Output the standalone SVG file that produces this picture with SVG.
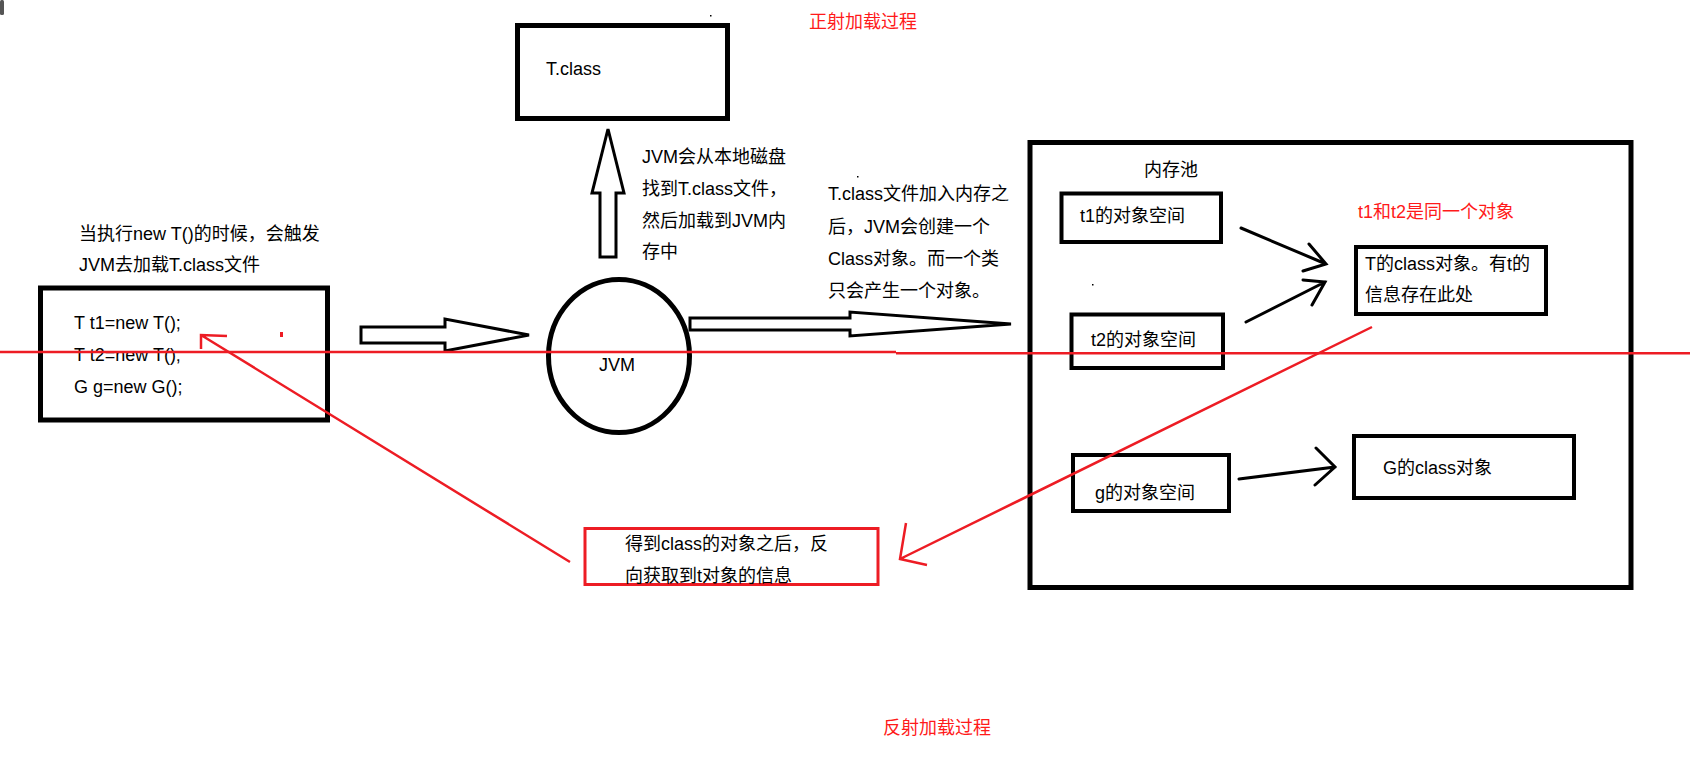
<svg xmlns="http://www.w3.org/2000/svg" width="1690" height="758" viewBox="0 0 1690 758">
<style>
  text { font-family: "Liberation Sans", "Noto Sans CJK SC", sans-serif; font-size: 18px; fill: #000; }
  .red { fill: #ff1a1a; }
  .box { fill: none; stroke: #000; }
  .blk { fill: #fff; stroke: #000; stroke-width: 3; stroke-linejoin: miter; }
  .ar { fill: none; stroke: #000; stroke-width: 3; stroke-linecap: round; }
  .rl { fill: none; stroke: #ED1C24; stroke-width: 2.5; }
</style>
<rect width="1690" height="758" fill="#fff"/>
<rect x="0" y="0" width="4" height="15" rx="1.5" fill="#555"/>

<g id="tclass">
  <rect class="box" x="517.5" y="25.5" width="210" height="93" stroke-width="5"/>
  <text x="546" y="75">T.class</text>
</g>

<g id="code">
  <text x="79" y="240">当执行new T()的时候，会触发</text>
  <text x="79" y="271">JVM去加载T.class文件</text>
  <rect class="box" x="40.5" y="288" width="287" height="132" stroke-width="5"/>
  <text x="74" y="329">T t1=new T();</text>
  <text x="74" y="361">T t2=new T();</text>
  <text x="74" y="393">G g=new G();</text>
</g>

<g id="jvm">
  <ellipse class="box" cx="619" cy="356" rx="70.5" ry="76.5" stroke-width="5"/>
  <text x="599" y="371">JVM</text>
</g>

<g id="pool">
  <rect class="box" x="1030" y="142.5" width="601" height="445" stroke-width="5"/>
  <text x="1144" y="176">内存池</text>
</g>

<g id="t1">
  <rect class="box" x="1061.5" y="193.5" width="159.5" height="48.5" stroke-width="4"/>
  <text x="1080" y="222">t1的对象空间</text>
</g>
<g id="t2">
  <rect class="box" x="1071.5" y="314.5" width="151.5" height="53.5" stroke-width="4"/>
  <text x="1091" y="346">t2的对象空间</text>
</g>
<g id="g">
  <rect class="box" x="1073" y="455" width="156" height="56" stroke-width="4"/>
  <text x="1095" y="499">g的对象空间</text>
</g>
<g id="tcls">
  <rect class="box" x="1356" y="247" width="190" height="67" stroke-width="4"/>
  <text x="1365" y="270">T的class对象。有t的</text>
  <text x="1365" y="301">信息存在此处</text>
</g>
<g id="gcls">
  <rect class="box" x="1354" y="436" width="220" height="62" stroke-width="4"/>
  <text x="1383" y="474">G的class对象</text>
</g>

<g id="result">
  <rect x="585" y="528.5" width="293" height="56" fill="none" stroke="#ED1C24" stroke-width="3"/>
  <text x="625" y="550">得到class的对象之后，反</text>
  <text x="625" y="582">向获取到t对象的信息</text>
</g>

<g id="labels">
  <text class="red" x="809" y="28">正射加载过程</text>
  <text class="red" x="883" y="734">反射加载过程</text>
  <text class="red" x="1358" y="218">t1和t2是同一个对象</text>
  <text x="642" y="163">JVM会从本地磁盘</text>
  <text x="642" y="195">找到T.class文件，</text>
  <text x="642" y="227">然后加载到JVM内</text>
  <text x="642" y="258">存中</text>
  <text x="828" y="200">T.class文件加入内存之</text>
  <text x="828" y="233">后，JVM会创建一个</text>
  <text x="828" y="265">Class对象。而一个类</text>
  <text x="828" y="297">只会产生一个对象。</text>
</g>

<g id="connectors">
  <polygon class="blk" points="608,129 624,193 616,193 616,257 600,257 600,193 592,193"/>
  <polygon class="blk" points="361,327 445,327 445,319 529,335 445,351 445,343 361,343"/>
  <polygon class="blk" points="690,318 850,318 850,312 1011,324 850,336 850,330 690,330"/>
  <path class="ar" d="M1241,228 L1326,264 M1309,244 L1326,264 L1303,271"/>
  <path class="ar" d="M1246,322 L1325,282 M1303,280 L1325,282 L1312,305"/>
  <path class="ar" d="M1239,479 L1335,467 M1316,448 L1335,467 L1315,485"/>
  <path class="rl" d="M0,352 L896,352 M896,353.3 L1690,353.3"/>
  <path class="rl" d="M1372,327 L900,559 M906,523 L900,559 L927,565"/>
  <path class="rl" d="M570,562 L201,335 M227,336 L201,335 L201,349"/>
</g>

<g id="specks">
  <rect x="280" y="332" width="3" height="5" fill="#ED1C24"/>
  <rect x="710" y="15" width="1.5" height="1.5" fill="#000"/>
  <rect x="857" y="176" width="1.5" height="1.5" fill="#000"/>
  <rect x="1092" y="284" width="1.5" height="1.5" fill="#000"/>
</g>
</svg>
